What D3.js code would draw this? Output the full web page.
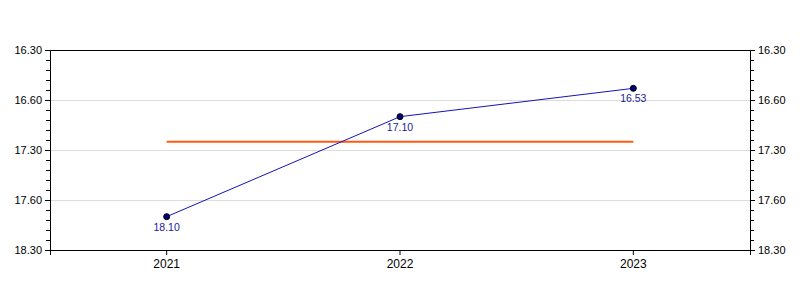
<!DOCTYPE html>
<html>
<head>
<meta charset="utf-8">
<script src="https://cdn.jsdelivr.net/npm/d3@7"></script>
<style>
  body { margin: 0; background: #fff; }
  text { font-family: "Liberation Sans", Arial, sans-serif; }
</style>
</head>
<body>
<div id="chart"></div>
<script>
// years and times (minutes.seconds)
const years = ["2021", "2022", "2023"];
const times = [18.10, 17.10, 16.53];
const refTime = 17.25; // orange reference line
const tickLabels = ["16.30", "16.60", "17.30", "17.60", "18.30"];

const margin = { top: 50, right: 50, bottom: 50, left: 50 },
  width = 800 - margin.left - margin.right,
  height = 300 - margin.top - margin.bottom;

// mm.ss -> seconds
const toSec = v => Math.floor(v) * 60 + Math.round((v % 1) * 100);
const secs = times.map(toSec);

const yMin = toSec(16.30), yMax = toSec(18.30);
const majorVals = d3.range(yMin, yMax + 1, 30);
const minorVals = d3.range(yMin, yMax + 1, 6);

const x = d3.scaleBand().domain(years).range([0, width]);
const y = d3.scaleLinear().domain([yMin, yMax]).range([0, height]);

const svg = d3.select("#chart").append("svg")
  .attr("width", width + margin.left + margin.right)
  .attr("height", height + margin.top + margin.bottom)
  .append("g")
  .attr("transform", "translate(" + margin.left + "," + margin.top + ")");

// grid
svg.selectAll(".grid")
  .data(majorVals.slice(1, -1))
  .enter().append("line")
  .attr("x1", 0).attr("x2", width)
  .attr("y1", d => y(d) + 0.5).attr("y2", d => y(d) + 0.5)
  .attr("stroke", "#dcdcdc");

// frame
svg.append("rect")
  .attr("x", 0.5).attr("y", 0.5)
  .attr("width", width).attr("height", height)
  .attr("fill", "none").attr("stroke", "#000");

const fmt = (d, i) => tickLabels[i];

const left = svg.append("g");
left.call(d3.axisLeft(y).tickValues(minorVals).tickSize(4).tickFormat(""));
left.append("g").call(d3.axisLeft(y).tickValues(majorVals).tickSize(5).tickFormat(fmt))
  .call(s => s.select(".domain").remove());

const right = svg.append("g").attr("transform", "translate(" + width + ",0)");
right.call(d3.axisRight(y).tickValues(minorVals).tickSize(4).tickFormat(""));
right.append("g").call(d3.axisRight(y).tickValues(majorVals).tickSize(5).tickFormat(fmt))
  .call(s => s.select(".domain").remove());

const bottom = svg.append("g")
  .attr("transform", "translate(0," + height + ")")
  .call(d3.axisBottom(x).tickSize(5).tickPadding(4));

svg.selectAll(".tick text").attr("font-size", 11).attr("fill", "#000")
  .style("font-family", "'Liberation Sans', Arial, sans-serif");
bottom.selectAll(".tick text").attr("font-size", 12);
svg.selectAll(".tick line").attr("stroke", "#000");

const cx = d => x(d) + x.bandwidth() / 2;

// reference line
svg.append("line")
  .attr("x1", cx(years[0])).attr("x2", cx(years[years.length - 1]))
  .attr("y1", y(toSec(refTime))).attr("y2", y(toSec(refTime)))
  .attr("stroke", "#ff5a14").attr("stroke-width", 2);

// series line
const line = d3.line().x((d, i) => cx(years[i])).y(d => y(d));
svg.append("path")
  .datum(secs)
  .attr("d", line)
  .attr("fill", "none")
  .attr("stroke", "#1414b4")
  .attr("stroke-width", 1);

svg.selectAll(".dot")
  .data(secs)
  .enter().append("circle")
  .attr("cx", (d, i) => cx(years[i]))
  .attr("cy", d => y(d))
  .attr("r", 3)
  .attr("fill", "#000080")
  .attr("stroke", "#000")
  .attr("stroke-width", 1);

svg.selectAll(".lbl")
  .data(times)
  .enter().append("text")
  .attr("x", (d, i) => cx(years[i]))
  .attr("y", (d, i) => y(secs[i]) + 14)
  .attr("text-anchor", "middle")
  .attr("font-size", 10.5)
  .attr("fill", "#1a1a9a")
  .text(d => d.toFixed(2));
</script>
</body>
</html>
